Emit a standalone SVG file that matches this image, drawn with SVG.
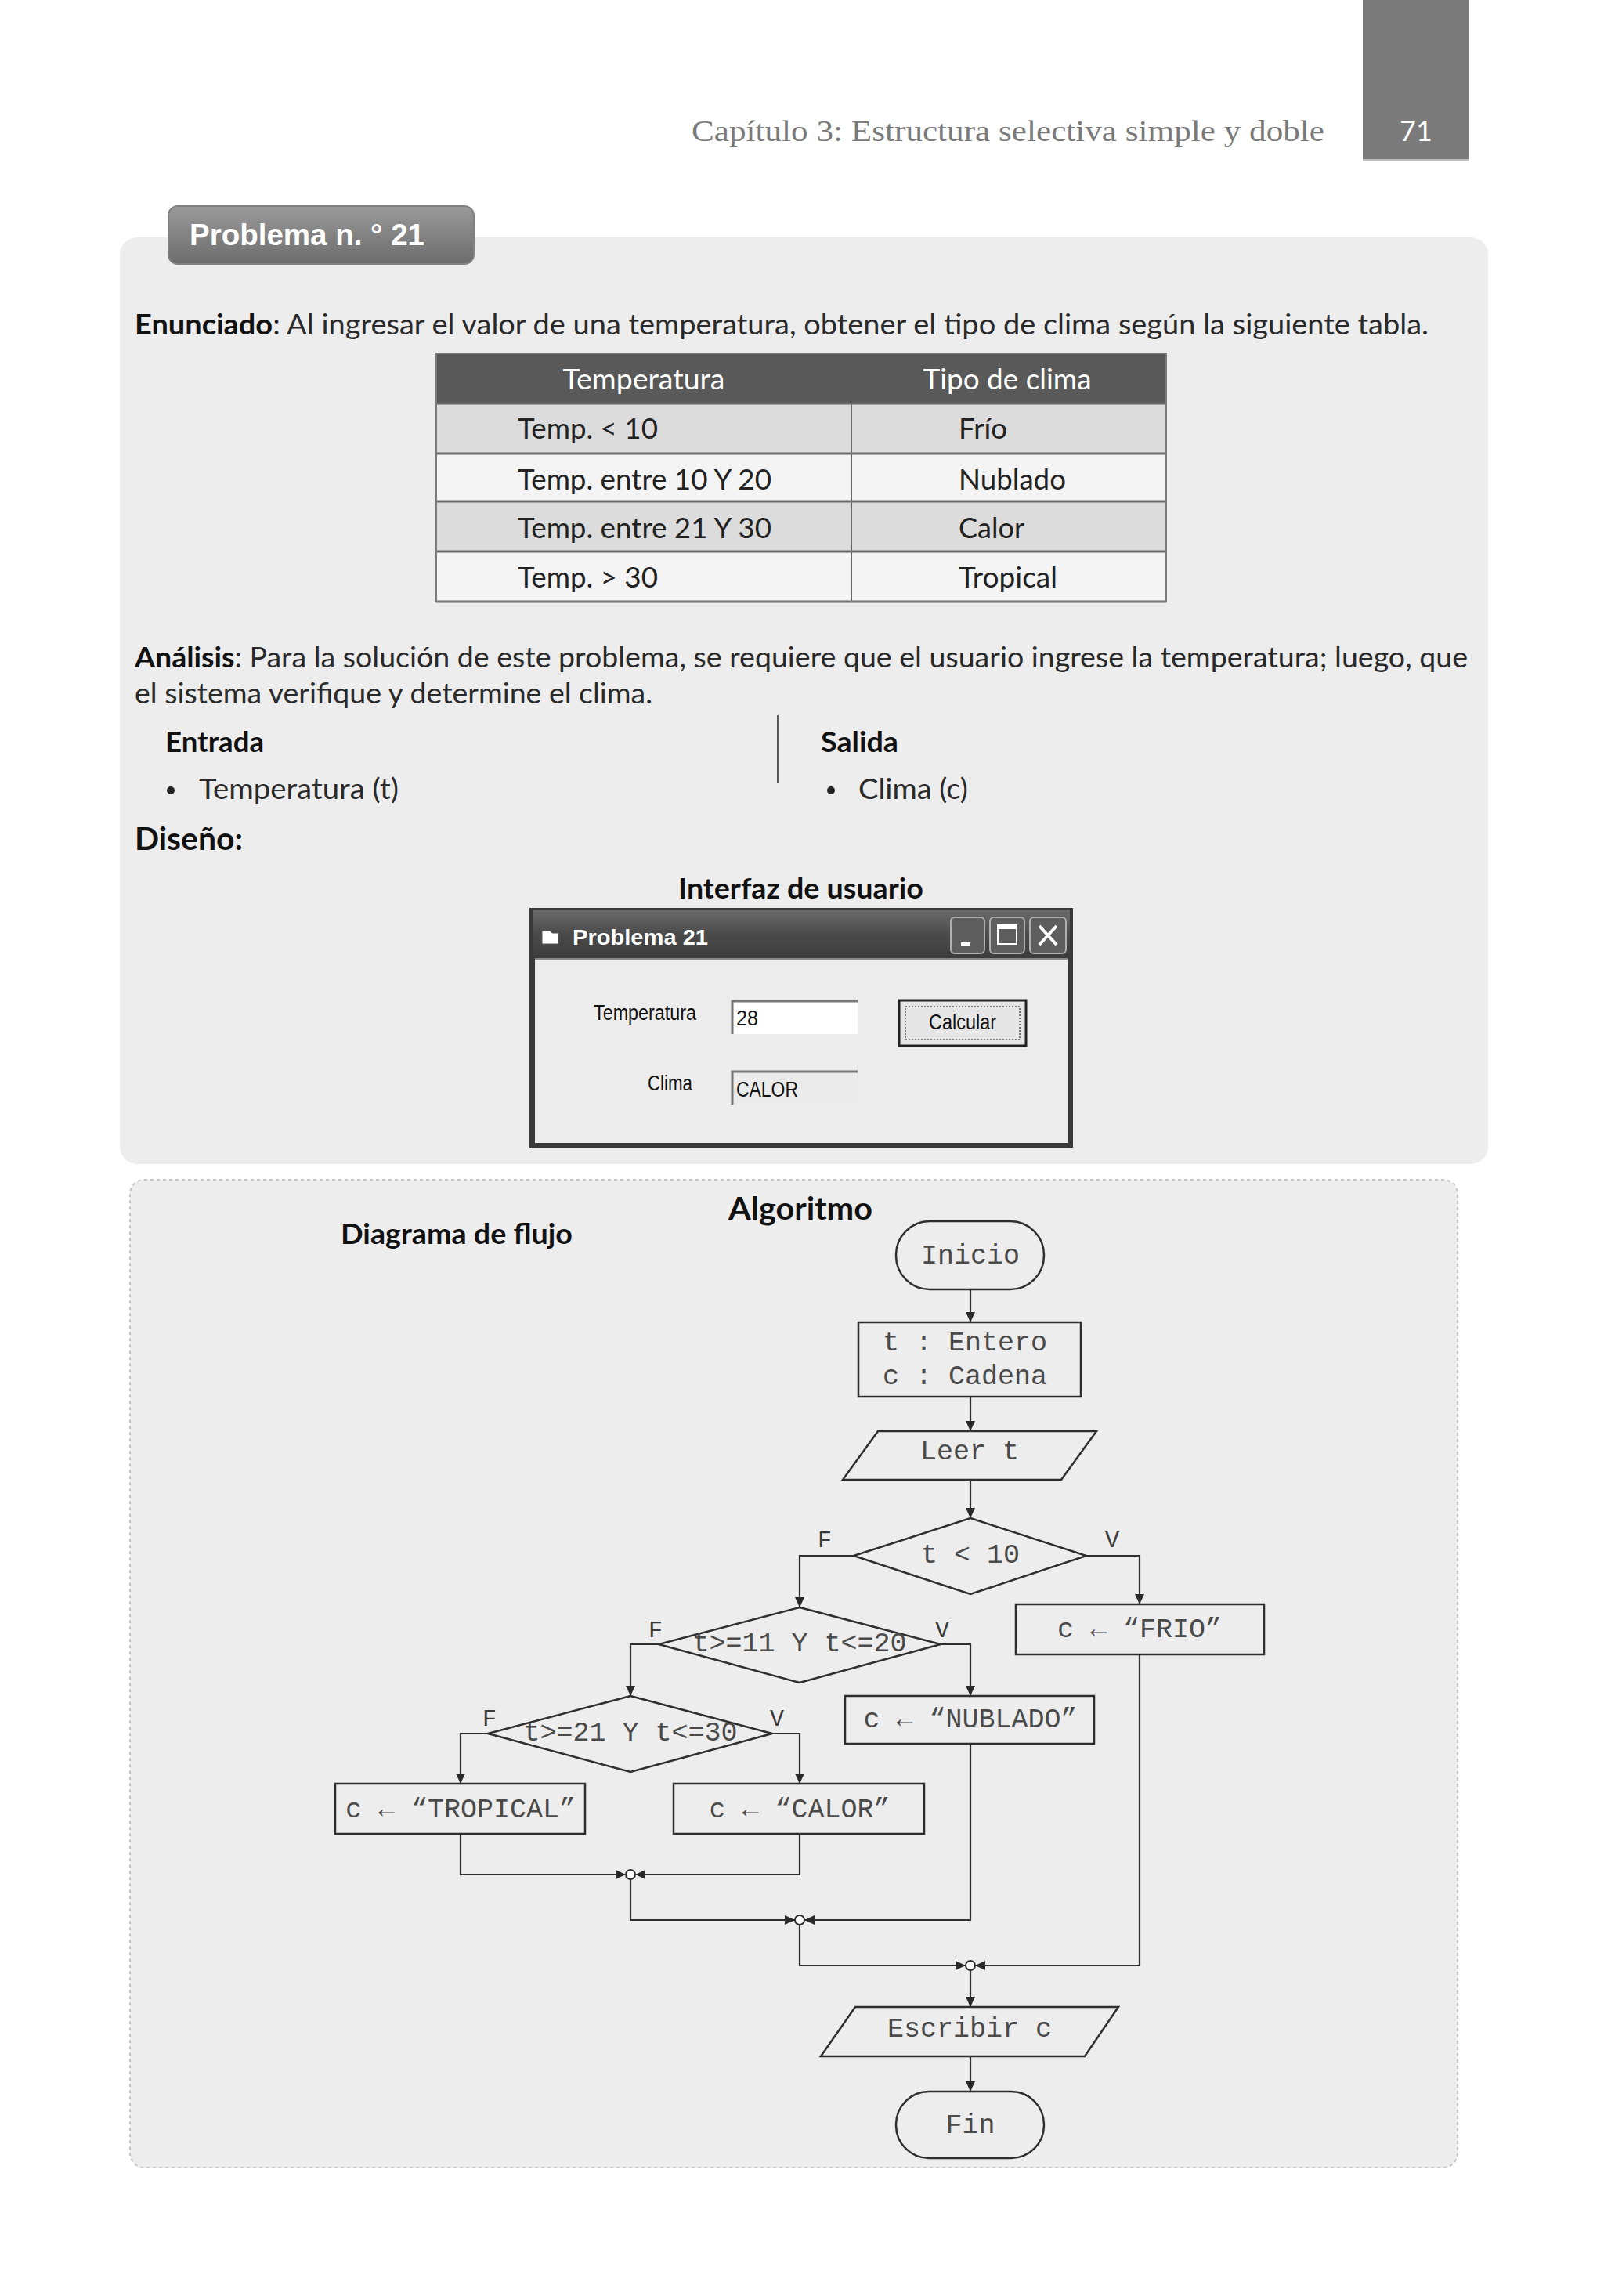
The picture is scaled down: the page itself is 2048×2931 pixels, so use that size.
<svg xmlns="http://www.w3.org/2000/svg" width="2048" height="2931" viewBox="0 0 2048 2931">
<defs>
<linearGradient id="tabg" x1="0" y1="0" x2="0" y2="1"><stop offset="0" stop-color="#9a9a9a"/><stop offset="1" stop-color="#6c6c6c"/></linearGradient>
<linearGradient id="titleg" x1="0" y1="0" x2="0" y2="1"><stop offset="0" stop-color="#6a6a6a"/><stop offset="0.5" stop-color="#4a4a4a"/><stop offset="1" stop-color="#3c3c3c"/></linearGradient>
<marker id="arr" markerUnits="userSpaceOnUse" markerWidth="14" markerHeight="12" refX="13" refY="6" orient="auto"><path d="M0,0 L13,6 L0,12 z" fill="#2a2a2a"/></marker>
<style>
.body{font-family:Lato,"Open Sans","Liberation Sans",sans-serif;font-size:36px;fill:#2a2a2a}
.bold{font-weight:bold;fill:#111}
.fc{font-family:"Liberation Mono","DejaVu Sans Mono",monospace;font-size:35px;fill:#4a4a4a}
.lbl{font-family:"Liberation Mono","DejaVu Sans Mono",monospace;font-size:30px;fill:#3a3a3a}
.shape{fill:none;stroke:#2e2e2e;stroke-width:2.5}
.conn{fill:none;stroke:#2e2e2e;stroke-width:2.2}
.win{font-family:"Liberation Sans",Arial,sans-serif;font-size:27px;fill:#111}
.tcell{font-family:Lato,"Open Sans","Liberation Sans",sans-serif;font-size:36px;fill:#222}
</style>
</defs>
<rect width="2048" height="2931" fill="#ffffff"/>

<!-- page header -->
<g id="header">
<rect x="1740" y="0" width="136" height="206" fill="#7b7b7b"/>
<rect x="1740" y="203" width="136" height="3" fill="#bdbdbd"/>
<text x="1808" y="180" text-anchor="middle" font-family="Lato,'Open Sans',sans-serif" font-size="36" fill="#ffffff">71</text>
<text x="883" y="180" font-family="'Liberation Serif','DejaVu Serif',serif" font-size="38" fill="#7a7a7a" textLength="808" lengthAdjust="spacingAndGlyphs">Capítulo 3:  Estructura selectiva simple y doble</text>
</g>

<!-- problem panel -->
<g id="panel1">
<rect x="153" y="303" width="1747" height="1183" rx="22" fill="#ededed"/>
<rect x="215" y="263" width="390" height="74" rx="12" fill="url(#tabg)" stroke="#808080" stroke-width="2"/>
<text x="242" y="313" font-family="'Liberation Sans',Arial,sans-serif" font-weight="bold" font-size="38" fill="#ffffff" textLength="300" lengthAdjust="spacingAndGlyphs">Problema n. ° 21</text>
</g>

<g id="enunciado">
<text class="body" x="172" y="427" textLength="1652" lengthAdjust="spacingAndGlyphs"><tspan class="bold">Enunciado</tspan>: Al ingresar el valor de una temperatura, obtener el tipo de clima según la siguiente tabla.</text>
</g>

<g id="tabla">
<rect x="557" y="451" width="932" height="64" fill="#595959"/>
<rect x="557" y="515" width="932" height="64" fill="#dcdcdc"/>
<rect x="557" y="579" width="932" height="61" fill="#f4f4f4"/>
<rect x="557" y="640" width="932" height="64" fill="#dcdcdc"/>
<rect x="557" y="704" width="932" height="64" fill="#f4f4f4"/>
<g stroke="#6a6a6a" stroke-width="3">
<line x1="557" y1="515" x2="1489" y2="515"/>
<line x1="557" y1="579" x2="1489" y2="579"/>
<line x1="557" y1="640" x2="1489" y2="640"/>
<line x1="557" y1="704" x2="1489" y2="704"/>
<line x1="557" y1="768" x2="1489" y2="768"/>
</g>
<line x1="1087" y1="515" x2="1087" y2="768" stroke="#6a6a6a" stroke-width="2"/>
<rect x="557" y="451" width="932" height="317" fill="none" stroke="#7a7a7a" stroke-width="2"/>
<text class="tcell" x="822" y="497" text-anchor="middle" style="fill:#ffffff" textLength="207" lengthAdjust="spacingAndGlyphs">Temperatura</text>
<text class="tcell" x="1286" y="497" text-anchor="middle" style="fill:#ffffff" textLength="215" lengthAdjust="spacingAndGlyphs">Tipo de clima</text>
<text class="tcell" x="661" y="560" textLength="179" lengthAdjust="spacingAndGlyphs">Temp. &lt; 10</text>
<text class="tcell" x="661" y="625" textLength="324" lengthAdjust="spacingAndGlyphs">Temp. entre 10 Y 20</text>
<text class="tcell" x="661" y="687" textLength="324" lengthAdjust="spacingAndGlyphs">Temp. entre 21 Y 30</text>
<text class="tcell" x="661" y="750" textLength="179" lengthAdjust="spacingAndGlyphs">Temp. &gt; 30</text>
<text class="tcell" x="1224" y="560" textLength="62" lengthAdjust="spacingAndGlyphs">Frío</text>
<text class="tcell" x="1224" y="625" textLength="137" lengthAdjust="spacingAndGlyphs">Nublado</text>
<text class="tcell" x="1224" y="687" textLength="84" lengthAdjust="spacingAndGlyphs">Calor</text>
<text class="tcell" x="1224" y="750" textLength="126" lengthAdjust="spacingAndGlyphs">Tropical</text>
</g>

<g id="analisis">
<text class="body" x="172" y="852" textLength="1702" lengthAdjust="spacingAndGlyphs"><tspan class="bold">Análisis</tspan>: Para la solución de este problema, se requiere que el usuario ingrese la temperatura; luego, que</text>
<text class="body" x="172" y="898" textLength="661" lengthAdjust="spacingAndGlyphs">el sistema verifique y determine el clima.</text>
<line x1="993" y1="913" x2="993" y2="1000" stroke="#555" stroke-width="2"/>
<text class="body bold" x="211" y="960" textLength="126" lengthAdjust="spacingAndGlyphs">Entrada</text>
<text class="body bold" x="1048" y="960" textLength="99" lengthAdjust="spacingAndGlyphs">Salida</text>
<circle cx="218" cy="1009" r="5" fill="#222"/>
<text class="body" x="254" y="1020" textLength="255" lengthAdjust="spacingAndGlyphs">Temperatura (t)</text>
<circle cx="1061" cy="1009" r="5" fill="#222"/>
<text class="body" x="1096" y="1020" textLength="140" lengthAdjust="spacingAndGlyphs">Clima (c)</text>
<text class="body bold" x="172" y="1085" style="font-size:40px" textLength="138" lengthAdjust="spacingAndGlyphs">Diseño:</text>
</g>

<g id="interfaz">
<text class="body bold" x="866" y="1147" textLength="313" lengthAdjust="spacingAndGlyphs">Interfaz de usuario</text>
<rect x="676" y="1159" width="694" height="306" fill="#3a3a3a"/>
<rect x="680" y="1162" width="686" height="62" fill="url(#titleg)"/>
<rect x="683" y="1224" width="680" height="235" fill="#ececec"/>
<line x1="683" y1="1224" x2="1363" y2="1224" stroke="#888" stroke-width="2"/>
<path d="M692,1188 h10 l3,3 h8 v14 h-21 z" fill="#ffffff" stroke="#555" stroke-width="1"/>
<text x="731" y="1206" font-family="'Liberation Sans',Arial,sans-serif" font-weight="bold" font-size="28" fill="#ffffff" textLength="173" lengthAdjust="spacingAndGlyphs">Problema 21</text>
<rect x="1214" y="1171" width="43" height="46" rx="5" fill="#5e5e5e" stroke="#b0b0b0" stroke-width="2"/>
<rect x="1227" y="1203" width="12" height="5" fill="#ffffff"/>
<rect x="1264" y="1171" width="44" height="46" rx="5" fill="#5e5e5e" stroke="#b0b0b0" stroke-width="2"/>
<rect x="1274" y="1181" width="24" height="24" fill="none" stroke="#ffffff" stroke-width="2"/>
<line x1="1274" y1="1184" x2="1298" y2="1184" stroke="#ffffff" stroke-width="4"/>
<rect x="1315" y="1171" width="46" height="46" rx="5" fill="#5e5e5e" stroke="#b0b0b0" stroke-width="2"/>
<path d="M1327,1182 L1349,1206 M1349,1182 L1327,1206" stroke="#ffffff" stroke-width="4"/>
<text class="win" x="758" y="1302" textLength="131" lengthAdjust="spacingAndGlyphs">Temperatura</text>
<rect x="935" y="1278" width="160" height="42" fill="#ffffff"/>
<path d="M935,1320 V1278 H1095" fill="none" stroke="#777" stroke-width="3"/>
<text class="win" x="940" y="1309" textLength="28" lengthAdjust="spacingAndGlyphs">28</text>
<rect x="1148" y="1277" width="162" height="58" fill="#e6e6e6" stroke="#222" stroke-width="3"/>
<rect x="1156" y="1285" width="146" height="42" fill="none" stroke="#555" stroke-width="1.5" stroke-dasharray="2,2"/>
<text class="win" x="1229" y="1314" text-anchor="middle" textLength="86" lengthAdjust="spacingAndGlyphs">Calcular</text>
<text class="win" x="827" y="1392" textLength="57" lengthAdjust="spacingAndGlyphs">Clima</text>
<rect x="935" y="1368" width="160" height="42" fill="#ebebeb"/>
<path d="M935,1410 V1368 H1095" fill="none" stroke="#777" stroke-width="3"/>
<text class="win" x="940" y="1400" textLength="79" lengthAdjust="spacingAndGlyphs">CALOR</text>
</g>

<!-- algorithm panel -->
<g id="panel2">
<rect x="166" y="1506" width="1695" height="1261" rx="18" fill="#ededed" stroke="#c4c4c4" stroke-width="2" stroke-dasharray="4,4"/>
<text class="body bold" x="930" y="1557" style="font-size:40px" textLength="184" lengthAdjust="spacingAndGlyphs">Algoritmo</text>
<text class="body bold" x="435" y="1588" textLength="296" lengthAdjust="spacingAndGlyphs">Diagrama de flujo</text>
</g>

<g id="connectors">
<path class="conn" d="M1239,1646 V1688" marker-end="url(#arr)"/>
<path class="conn" d="M1239,1783 V1827" marker-end="url(#arr)"/>
<path class="conn" d="M1239,1889 V1938" marker-end="url(#arr)"/>
<path class="conn" d="M1090,1986 H1021 V2052" marker-end="url(#arr)"/>
<path class="conn" d="M1387,1986 H1455 V2048" marker-end="url(#arr)"/>
<path class="conn" d="M841,2099 H805 V2165" marker-end="url(#arr)"/>
<path class="conn" d="M1201,2099 H1239 V2165" marker-end="url(#arr)"/>
<path class="conn" d="M623,2213 H588 V2277" marker-end="url(#arr)"/>
<path class="conn" d="M986,2213 H1021 V2277" marker-end="url(#arr)"/>
<path class="conn" d="M588,2341 V2393 H799" marker-end="url(#arr)"/>
<path class="conn" d="M1021,2341 V2393 H811" marker-end="url(#arr)"/>
<path class="conn" d="M805,2399 V2451 H1015" marker-end="url(#arr)"/>
<path class="conn" d="M1239,2226 V2451 H1027" marker-end="url(#arr)"/>
<path class="conn" d="M1021,2457 V2509 H1233" marker-end="url(#arr)"/>
<path class="conn" d="M1455,2112 V2509 H1245" marker-end="url(#arr)"/>
<path class="conn" d="M1239,2515 V2562" marker-end="url(#arr)"/>
<path class="conn" d="M1239,2625 V2670" marker-end="url(#arr)"/>
<circle cx="805" cy="2393" r="6" fill="#ffffff" stroke="#2e2e2e" stroke-width="2"/>
<circle cx="1021" cy="2451" r="6" fill="#ffffff" stroke="#2e2e2e" stroke-width="2"/>
<circle cx="1239" cy="2509" r="6" fill="#ffffff" stroke="#2e2e2e" stroke-width="2"/>
<text class="lbl" x="1053" y="1975" text-anchor="middle">F</text>
<text class="lbl" x="1420" y="1975" text-anchor="middle">V</text>
<text class="lbl" x="837" y="2090" text-anchor="middle">F</text>
<text class="lbl" x="1203" y="2090" text-anchor="middle">V</text>
<text class="lbl" x="625" y="2203" text-anchor="middle">F</text>
<text class="lbl" x="992" y="2203" text-anchor="middle">V</text>
</g>

<g id="inicio">
<rect class="shape" x="1144" y="1559" width="189" height="87" rx="43"/>
<text class="fc" x="1239" y="1613" text-anchor="middle">Inicio</text>
</g>
<g id="declaracion">
<rect class="shape" x="1096" y="1688" width="284" height="95"/>
<text class="fc" x="1127" y="1724" xml:space="preserve">t : Entero</text>
<text class="fc" x="1127" y="1767" xml:space="preserve">c : Cadena</text>
</g>
<g id="leer">
<polygon class="shape" points="1121,1827 1400,1827 1355,1889 1076,1889"/>
<text class="fc" x="1238" y="1863" text-anchor="middle">Leer t</text>
</g>
<g id="decision1">
<polygon class="shape" points="1239,1938 1387,1986 1239,2035 1090,1986"/>
<text class="fc" x="1239" y="1995" text-anchor="middle" xml:space="preserve">t &lt; 10</text>
</g>
<g id="frio">
<rect class="shape" x="1297" y="2048" width="317" height="64"/>
<text class="fc" x="1455" y="2090" text-anchor="middle">c ← “FRIO”</text>
</g>
<g id="decision2">
<polygon class="shape" points="1021,2052 1201,2099 1021,2148 841,2099"/>
<text class="fc" x="1021" y="2108" text-anchor="middle">t&gt;=11 Y t&lt;=20</text>
</g>
<g id="nublado">
<rect class="shape" x="1079" y="2165" width="318" height="61"/>
<text class="fc" x="1239" y="2205" text-anchor="middle">c ← “NUBLADO”</text>
</g>
<g id="decision3">
<polygon class="shape" points="805,2165 986,2213 805,2262 623,2213"/>
<text class="fc" x="805" y="2222" text-anchor="middle">t&gt;=21 Y t&lt;=30</text>
</g>
<g id="tropical">
<rect class="shape" x="428" y="2277" width="319" height="64"/>
<text class="fc" x="588" y="2320" text-anchor="middle">c ← “TROPICAL”</text>
</g>
<g id="calor">
<rect class="shape" x="860" y="2277" width="320" height="64"/>
<text class="fc" x="1021" y="2320" text-anchor="middle">c ← “CALOR”</text>
</g>
<g id="escribir">
<polygon class="shape" points="1092,2562 1428,2562 1385,2625 1048,2625"/>
<text class="fc" x="1238" y="2600" text-anchor="middle">Escribir c</text>
</g>
<g id="fin">
<rect class="shape" x="1144" y="2670" width="189" height="85" rx="42"/>
<text class="fc" x="1239" y="2723" text-anchor="middle">Fin</text>
</g>
</svg>
